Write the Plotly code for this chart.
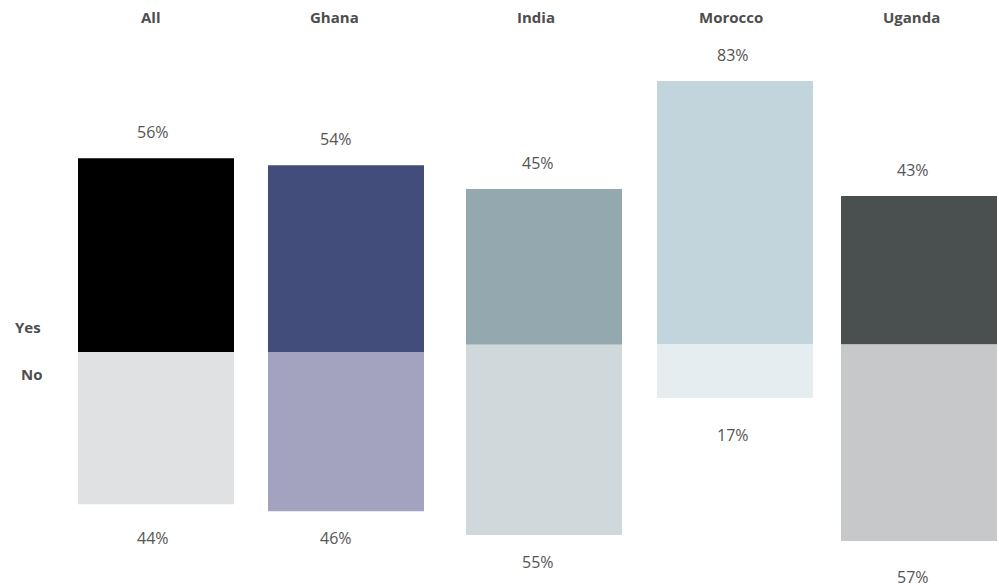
import plotly.graph_objects as go

# Share of respondents answering Yes / No, by country
countries = ["All", "Ghana", "India", "Morocco", "Uganda"]
yes_pct = [56, 54, 45, 83, 43]
no_pct = [44, 46, 55, 17, 57]

yes_colors = ["#000000", "#434d7c", "#94a8b0", "#c3d5dc", "#4a4f50"]
no_colors = ["#e0e1e3", "#a3a3bf", "#d1d8db", "#e5edf0", "#c7c8ca"]

W, H = 999, 587
# horizontal pixel span of each panel
panel_px = [(78, 234), (268, 424), (466, 622), (657, 813), (841, 997)]
# vertical scale (px per percentage point) and zero-line pixel row per panel
scale_px = [3.46, 3.46, 3.46, 3.17, 3.45]
zero_px = [352, 352, 344.7, 344, 344.4]
# label nudges
label_dx = [-3, -10, -6, -2, -6]
no_label_dy = [34, 27, 27, 37, 36]

TEXT = "#555555"
TITLE = "#4d4d4d"
FONT = "Open Sans"

fig = go.Figure()
layout = dict(
    width=W, height=H,
    margin=dict(l=0, r=0, t=0, b=0),
    paper_bgcolor="white", plot_bgcolor="white",
    showlegend=False, barmode="overlay",
    font=dict(family=FONT, color=TEXT),
)
annotations = []

for i, name in enumerate(countries):
    n = "" if i == 0 else str(i + 1)
    xa, ya = "x" + n, "y" + n
    fig.add_trace(go.Bar(x=[name], y=[yes_pct[i]], width=1,
                         marker=dict(color=yes_colors[i], line=dict(width=0)),
                         xaxis=xa, yaxis=ya, hoverinfo="skip"))
    fig.add_trace(go.Bar(x=[name], y=[-no_pct[i]], width=1,
                         marker=dict(color=no_colors[i], line=dict(width=0)),
                         xaxis=xa, yaxis=ya, hoverinfo="skip"))

    l, r = panel_px[i]
    s, z = scale_px[i], zero_px[i]
    layout["xaxis" + n] = dict(domain=[l / W, r / W], range=[-0.5, 0.5],
                               visible=False, fixedrange=True,
                               anchor=ya)
    layout["yaxis" + n] = dict(domain=[0, 1], range=[-(H - z) / s, z / s],
                               visible=False, fixedrange=True, anchor=xa)

    annotations.append(dict(x=name, y=yes_pct[i], xref=xa, yref=ya,
                            text=f"{yes_pct[i]}%", showarrow=False,
                            xshift=label_dx[i], yshift=26, yanchor="middle",
                            font=dict(size=16, color=TEXT, family=FONT)))
    annotations.append(dict(x=name, y=-no_pct[i], xref=xa, yref=ya,
                            text=f"{no_pct[i]}%", showarrow=False,
                            xshift=label_dx[i], yshift=-no_label_dy[i],
                            yanchor="middle",
                            font=dict(size=16, color=TEXT, family=FONT)))
    annotations.append(dict(x=name, y=1 - 17 / H, xref=xa, yref="paper",
                            text=f"<b>{name}</b>", showarrow=False,
                            xshift=label_dx[i] - 2, yanchor="middle",
                            font=dict(size=15, color=TITLE, family=FONT)))

# row labels on the left
annotations.append(dict(x=43 / W, y=1 - 327 / H, xref="paper", yref="paper",
                        text="<b>Yes</b>", showarrow=False, xanchor="right",
                        yanchor="middle",
                        font=dict(size=15, color=TITLE, family=FONT)))
annotations.append(dict(x=44 / W, y=1 - 374 / H, xref="paper", yref="paper",
                        text="<b>No</b>", showarrow=False, xanchor="right",
                        yanchor="middle",
                        font=dict(size=15, color=TITLE, family=FONT)))

layout["annotations"] = annotations
fig.update_layout(**layout)
fig.write_html("out.html", config={"displayModeBar": False})
